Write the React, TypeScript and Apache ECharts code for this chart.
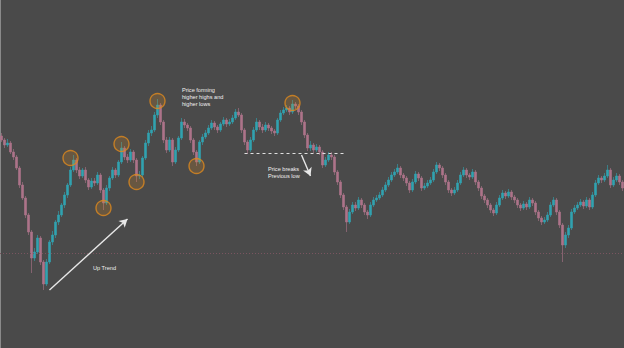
import React, { useEffect, useRef } from "react";
import * as echarts from "echarts";

// Price units: arbitrary points (chart has no visible axis labels)
const firstOpen = 212;
const closes = [
  208,203,205,196,191,180,163,150,133,116,
  90,96,110,86,64,86,106,113,126,133,
  143,153,163,178,188,178,172,178,168,161,
  167,165,173,158,145,160,170,178,173,186,
  200,191,188,196,188,172,173,190,205,215,
  218,233,243,226,208,198,208,186,198,210,
  226,223,220,208,196,186,206,211,215,220,
  225,221,218,224,228,224,226,230,236,233,
  218,206,198,208,218,226,221,218,223,220,
  217,215,228,235,238,240,236,244,242,236,
  226,213,200,203,198,201,196,183,188,193,
  191,176,166,153,141,126,136,143,140,148,
  143,136,133,143,148,150,153,158,163,168,
  173,176,180,173,170,165,158,166,174,170,
  160,162,165,168,176,183,180,173,166,158,
  155,158,165,173,178,173,171,176,166,160,
  152,148,143,138,135,143,150,155,152,156,
  151,148,143,140,144,141,148,145,136,130,
  126,128,133,143,148,136,123,103,113,120,
  136,140,143,146,142,148,141,153,165,170,
  168,172,178,163,168,172,166,160,
];
const highs = [
  215,210,209,207,199,193,182,166,152,135,
  118,100,113,112,88,89,108,117,128,137,
  145,156,165,181,193,190,181,180,181,170,
  170,170,176,175,160,163,172,181,180,188,
  206,202,194,199,198,190,177,192,208,218,
  222,236,249,245,228,211,211,210,201,212,
  230,229,225,222,210,198,208,214,218,223,
  228,227,223,226,231,230,229,233,239,240,
  235,220,208,211,221,230,228,224,226,225,
  222,219,230,238,241,243,242,248,246,244,
  238,228,215,207,205,204,203,198,191,196,
  196,193,178,168,155,143,139,146,146,151,
  150,145,138,146,151,153,156,161,166,171,
  176,179,184,182,175,172,167,169,177,176,
  172,165,168,171,179,186,185,182,175,168,
  160,161,168,176,181,180,175,179,178,168,
  162,154,150,145,140,146,153,158,157,159,
  158,153,150,145,147,146,151,150,147,138,
  132,131,136,146,151,150,138,125,116,123,
  139,143,146,149,148,151,150,156,168,173,
  172,175,183,180,171,175,174,168,
];
const lows = [
  206,200,201,194,188,178,160,148,130,113,
  75,87,94,83,58,62,84,103,110,123,
  131,140,150,161,176,175,169,170,165,158,
  159,162,163,155,138,143,157,168,170,171,
  184,188,185,186,185,166,169,171,188,202,
  212,216,230,223,205,195,196,182,184,196,
  208,220,217,205,193,182,184,203,209,213,
  218,218,215,216,222,221,222,224,228,231,
  215,203,194,196,206,216,218,215,216,217,
  214,212,213,226,233,236,233,234,239,233,
  223,210,197,197,195,196,193,180,181,186,
  188,173,163,150,138,116,124,134,137,138,
  140,133,129,131,141,146,148,151,156,161,
  166,171,174,170,167,162,155,156,164,167,
  157,158,160,163,166,174,177,170,163,155,
  152,153,156,163,171,170,168,169,163,157,
  149,145,140,135,132,133,141,148,149,150,
  148,145,140,137,138,138,139,142,133,127,
  123,124,126,131,141,133,120,86,100,110,
  118,134,138,141,139,140,138,139,151,163,
  165,166,170,160,161,166,163,157,
];
const categories = closes.map((_, i) => String(i + 1));

// Annotated swing points: [candle index, price]
const swingPoints = [
  [23, 190], [34, 140], [40, 204], [45, 166], [52, 247], [65, 182], [97, 245],
];
const previousLow = { from: 81, to: 114, price: 195 };
const trendArrow = { from: [16, 58], to: [42, 129] };
const breakArrow = { from: [100, 193], to: [103, 172] };
const supportLevel = 95;

const UP = "#31a2b0";
const DOWN = "#ad7389";

export default function App() {
  const ref = useRef<HTMLDivElement>(null);
  useEffect(() => {
    if (!ref.current) return;
    const chart = echarts.init(ref.current, undefined, { renderer: "svg" });
    const opens = [firstOpen, ...closes.slice(0, -1)];
    const ohlc = closes.map((c, i) => [opens[i], c, lows[i], highs[i]]);
    const textStyle = {
      fill: "#f0f0f0",
      fontSize: 5.6,
      fontFamily: "Liberation Sans, Arial, sans-serif",
      lineHeight: 7,
    };
    chart.setOption({
      animation: false,
      backgroundColor: "#4a4a4a",
      grid: { left: 0, right: 0, top: 0, bottom: 0 },
      xAxis: {
        type: "category",
        data: categories,
        boundaryGap: true,
        show: false,
      },
      yAxis: {
        type: "value",
        min: 0,
        max: 348,
        show: false,
        splitLine: { show: false },
      },
      series: [
        {
          type: "candlestick",
          data: ohlc,
          barWidth: 2,
          itemStyle: {
            color: UP,
            color0: DOWN,
            borderColor: UP,
            borderColor0: DOWN,
            borderWidth: 0.6,
          },
          markLine: {
            silent: true,
            symbol: "none",
            label: { show: false },
            animation: false,
            data: [
              [
                { coord: [previousLow.from, previousLow.price], lineStyle: { color: "#e0e0e0", type: [3, 3], width: 1 } },
                { coord: [previousLow.to, previousLow.price] },
              ],
              {
                yAxis: supportLevel,
                lineStyle: { color: "#7a5560", type: [1, 2], width: 1 },
              },
            ],
          },
        },
        {
          type: "scatter",
          data: swingPoints,
          symbol: "circle",
          symbolSize: 15,
          silent: true,
          itemStyle: {
            color: "rgba(224,138,28,0.25)",
            borderColor: "#de8a1e",
            borderWidth: 1.4,
          },
          z: 5,
        },
        {
          type: "line",
          data: [],
          markLine: {
            silent: true,
            symbol: ["none", "arrow"],
            symbolSize: [7, 8],
            label: { show: false },
            lineStyle: { color: "#e8e8e8", width: 1.4, type: "solid" },
            data: [
              [{ coord: trendArrow.from }, { coord: trendArrow.to }],
              [{ coord: breakArrow.from }, { coord: breakArrow.to }],
            ],
          },
        },
      ],
      graphic: [
        { type: "rect", left: 0, top: 0, shape: { width: 1, height: 348 }, style: { fill: "#8a8a8a" } },
        {
          type: "text",
          left: 182,
          top: 86,
          style: { ...textStyle, text: "Price forming\nhigher highs and\nhigher lows" },
        },
        {
          type: "text",
          left: 268,
          top: 165,
          style: { ...textStyle, text: "Price breaks\nPrevious low" },
        },
        {
          type: "text",
          left: 93,
          top: 264,
          style: { ...textStyle, text: "Up Trend" },
        },
      ],
    });
    return () => chart.dispose();
  }, []);
  return (
    <div
      ref={ref}
      style={{ position: "fixed", left: 0, top: 0, width: 624, height: 348 }}
    />
  );
}
